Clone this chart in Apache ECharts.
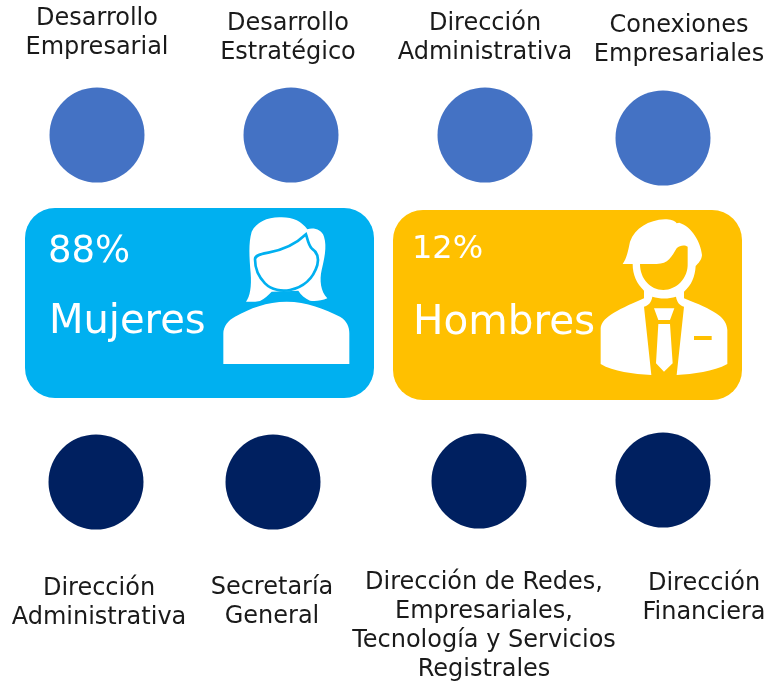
<!DOCTYPE html>
<html>
<head>
<meta charset="utf-8">
<style>
html,body{margin:0;padding:0;background:#fff;}
#main{width:769px;height:682px;}
</style>
<script src="https://cdn.jsdelivr.net/npm/echarts@6/dist/echarts.min.js"></script>
</head>
<body>
<div id="main"></div>
<script>
var topLabels = ['Desarrollo\nEmpresarial', 'Desarrollo\nEstratégico', 'Dirección\nAdministrativa', 'Conexiones\nEmpresariales'];
var bottomLabels = ['Dirección\nAdministrativa', 'Secretaría\nGeneral', 'Dirección de Redes,\nEmpresariales,\nTecnología y Servicios\nRegistrales', 'Dirección\nFinanciera'];
var groupNames = ['Mujeres', 'Hombres'];
var groupPercents = [88, 12];

// sitio de cada circulo y de cada texto
var topDots = [[97, 135], [291, 135], [485, 135], [663, 138]];
var bottomDots = [[96, 482], [273, 482], [479, 481], [663, 480]];
var topLabelPos = [[97, 33.5], [288, 38.5], [485, 38], [679, 40.5]];
var bottomLabelPos = [[99, 603], [272, 602], [484, 626], [704, 598]];

var FONT = 'DejaVu Sans';
var myChart = echarts.init(document.getElementById('main'));

function labelSeries(pos, names) {
    return {
        type: 'scatter',
        symbolSize: 1,
        // scatter trae opacity 0.8 y tambien aclara el label
        itemStyle: { color: 'transparent', opacity: 1 },
        silent: true,
        data: pos.map(function (p, i) { return { value: p, name: names[i] }; }),
        label: {
            show: true,
            position: 'inside',
            formatter: function (p) { return p.name; },
            color: '#1a1a1a',
            fontFamily: FONT,
            fontSize: 24,
            lineHeight: 29,
            align: 'center',
            verticalAlign: 'middle'
        }
    };
}

function dotSeries(pos, color) {
    return {
        type: 'scatter',
        symbolSize: 95,
        silent: true,
        itemStyle: { color: color, opacity: 1 },
        data: pos
    };
}

// el componente graphic no tiene type path, hay que registrar cada forma
var iconCount = 0;
function icon(x, y, d, fill, stroke, lineWidth) {
    var name = 'icon' + (iconCount++);
    echarts.graphic.registerShape(name, echarts.graphic.extendPath(d, {}));
    return {
        type: name,
        x: x, y: y,
        scaleX: 1 / 3, scaleY: 1 / 3,
        style: { fill: fill, stroke: stroke || null, lineWidth: lineWidth || 0 },
        silent: true
    };
}

function panelText(x, y, text, size) {
    return {
        type: 'text', x: x, y: y, silent: true,
        style: { text: text, fill: '#fff', font: size + 'px ' + FONT, verticalAlign: 'middle' }
    };
}

var WHITE = '#fff', BLUE = '#00B0F0', YELLOW = '#FFC000';

var graphic = [
    { type: 'rect', shape: { x: 25, y: 208, width: 349, height: 190, r: 30 }, style: { fill: BLUE }, silent: true },
    { type: 'rect', shape: { x: 393, y: 210, width: 349, height: 190, r: 30 }, style: { fill: YELLOW }, silent: true },
    panelText(48, 252, groupPercents[0] + '%', 37),
    panelText(49, 323, groupNames[0], 40),
    panelText(412, 250, groupPercents[1] + '%', 32),
    panelText(413, 323, groupNames[1], 40.5),
    // mujer
    icon(200, 200, 'M138,305 C150,290 155,260 152,220 C148,170 145,130 155,95 C170,65 205,50 245,52 C280,52 305,65 322,88 C340,82 365,88 372,110 C382,140 372,180 365,210 C358,240 362,275 382,295 C365,302 345,305 330,302 C315,295 302,285 295,272 L215,275 C205,285 195,295 180,303 C165,306 150,306 138,305 Z', WHITE),
    icon(200, 200, 'M318,103 C290,130 250,150 205,158 C185,162 165,165 165,178 C165,195 170,225 195,250 C215,270 245,275 270,270 C310,262 340,235 352,195 C358,170 350,155 335,145 C325,135 322,115 318,103 Z', WHITE, BLUE, 8),
    icon(200, 200, 'M70,492 L70,400 C70,380 85,360 105,350 C150,325 200,305 260,305 C320,305 375,328 420,350 C440,362 448,380 448,400 L448,492 Z', WHITE),
    // hombre
    icon(580, 200, 'M128,192 C140,175 145,150 150,125 C165,85 205,60 255,58 C270,58 285,62 290,70 L298,68 C335,80 362,125 366,165 C365,180 355,190 347,198 C345,230 335,255 312,275 L312,295 C400,330 440,350 442,390 L442,492 C400,515 340,522 290,525 L214,525 C160,522 100,515 62,492 L62,385 C65,355 100,335 192,295 L192,272 C170,250 158,225 158,192 Z', WHITE),
    icon(580, 200, 'M180,192 L230,192 C265,192 275,170 290,145 C300,135 315,135 323,140 L323,190 C325,235 290,270 250,270 C210,270 180,235 180,192 Z', YELLOW),
    icon(580, 200, 'M192,320 C205,318 215,305 217,290 C240,297 265,297 288,290 C290,305 300,318 312,320 L290,525 L214,525 Z', YELLOW),
    icon(580, 200, 'M222,325 L283,325 L270,360 L235,360 Z M235,372 L270,372 L278,490 L252,515 L228,490 Z', WHITE),
    icon(580, 200, 'M342,408 L395,408 L395,420 L342,420 Z', YELLOW)
];

var option = {
    animation: false,
    grid: { left: 0, right: 0, top: 0, bottom: 0 },
    xAxis: { type: 'value', min: 0, max: 769, show: false },
    yAxis: { type: 'value', min: 0, max: 682, inverse: true, show: false },
    graphic: graphic,
    series: [
        dotSeries(topDots, '#4472C4'),
        dotSeries(bottomDots, '#002060'),
        labelSeries(topLabelPos, topLabels),
        labelSeries(bottomLabelPos, bottomLabels)
    ]
};
myChart.setOption(option, true);
</script>
</body>
</html>
